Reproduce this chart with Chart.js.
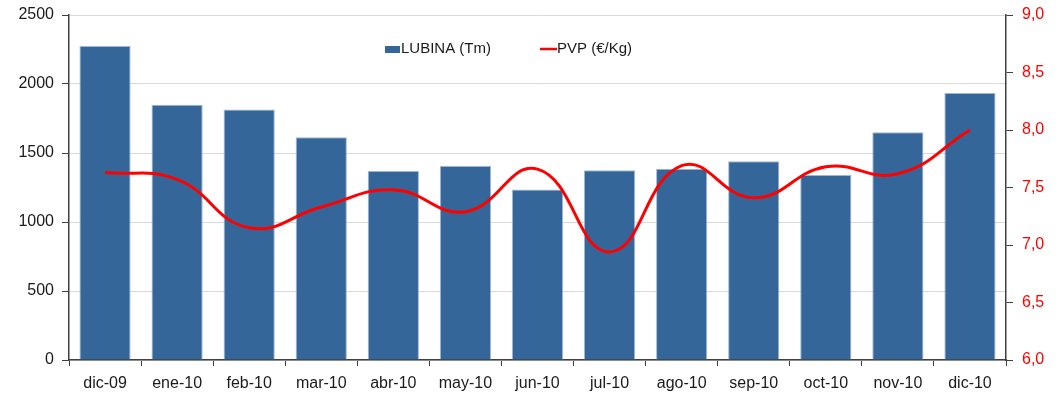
<!DOCTYPE html>
<html>
<head>
<meta charset="utf-8">
<script src="https://cdn.jsdelivr.net/npm/chart.js@4/dist/chart.umd.min.js"></script>
<style>
  html, body { margin: 0; padding: 0; background: #fff; }
  #wrap { width: 1061px; height: 394px; position: relative; }
</style>
</head>
<body>
<div id="wrap"><canvas id="lubinaChart"></canvas></div>
<script>
// Monthly data
const months = ['dic-09', 'ene-10', 'feb-10', 'mar-10', 'abr-10', 'may-10', 'jun-10',
                'jul-10', 'ago-10', 'sep-10', 'oct-10', 'nov-10', 'dic-10'];
const lubinaTm = [2275, 1850, 1815, 1615, 1370, 1405, 1235, 1375, 1385, 1440, 1340, 1650, 1935];
const pvpEurKg = [7.63, 7.57, 7.15, 7.33, 7.48, 7.29, 7.66, 6.94, 7.69, 7.41, 7.68, 7.62, 8.0];
const leftTicks = [0, 500, 1000, 1500, 2000, 2500];
const rightTicks = [6.0, 6.5, 7.0, 7.5, 8.0, 8.5, 9.0];

const BAR_BLUE = '#346699';
const LINE_RED = '#ff0000';
const AXIS_DARK = '#404040';
const FONT = "'Liberation Sans', Arial, sans-serif";

Chart.defaults.font.family = FONT;
Chart.defaults.font.size = 16;
Chart.defaults.color = '#1a1a1a';

// Legend drawn inside the plot, centred near the top
const innerLegend = {
    id: 'innerLegend',
    afterDatasetsDraw(chart) {
        const ctx = chart.ctx;
        const barSet = chart.data.datasets.find(d => d.type === 'bar');
        const lineSet = chart.data.datasets.find(d => d.type === 'line');
        ctx.save();
        ctx.font = '15px ' + FONT;
        ctx.textBaseline = 'middle';
        ctx.fillStyle = BAR_BLUE;
        ctx.fillRect(385, 46, 15, 7);
        ctx.fillStyle = '#1a1a1a';
        ctx.fillText(barSet.label, 401, 49);
        ctx.strokeStyle = LINE_RED;
        ctx.lineWidth = 2.5;
        ctx.beginPath();
        ctx.moveTo(540, 49);
        ctx.lineTo(557, 49);
        ctx.stroke();
        ctx.fillStyle = '#1a1a1a';
        ctx.fillText(lineSet.label, 557, 49);
        ctx.restore();
    }
};

// keep the value axes flush with the layout padding
const noVerticalPad = (scale) => {
    scale.paddingTop = 0;
    scale.paddingBottom = 0;
};

const ctx = document.getElementById('lubinaChart').getContext('2d');
new Chart(ctx, {
    type: 'bar',
    data: {
        labels: months,
        datasets: [
            {
                type: 'line',
                label: 'PVP (€/Kg)',
                data: pvpEurKg,
                yAxisID: 'y1',
                borderColor: LINE_RED,
                borderWidth: 3,
                pointRadius: 0,
                tension: 0.45,
                fill: false,
                order: 0
            },
            {
                type: 'bar',
                label: 'LUBINA (Tm)',
                data: lubinaTm,
                yAxisID: 'y',
                backgroundColor: BAR_BLUE,
                borderColor: '#9fb6cf',
                borderWidth: 1,
                categoryPercentage: 1.0,
                barPercentage: 0.71,
                order: 1
            }
        ]
    },
    options: {
        responsive: true,
        maintainAspectRatio: false,
        animation: false,
        layout: { padding: { top: 15, left: 0, right: 0, bottom: 0 } },
        plugins: {
            legend: { display: false },
            tooltip: { enabled: false }
        },
        scales: {
            x: {
                grid: {
                    offset: true,
                    drawOnChartArea: false,
                    drawTicks: true,
                    tickLength: 6,
                    tickColor: AXIS_DARK
                },
                border: { color: AXIS_DARK, width: 1.5 },
                ticks: { padding: 8, color: '#1a1a1a', maxRotation: 0 },
                afterFit: (scale) => {
                    scale.height = 34;
                    scale.paddingLeft = 0;
                    scale.paddingRight = 0;
                }
            },
            y: {
                position: 'left',
                min: 0,
                max: 2500,
                afterBuildTicks: (scale) => { scale.ticks = leftTicks.map(v => ({ value: v })); },
                grid: {
                    color: '#d9d9d9',
                    tickColor: AXIS_DARK,
                    tickLength: 7,
                    lineWidth: 1
                },
                border: { color: AXIS_DARK, width: 1.5 },
                ticks: {
                    padding: 8,
                    color: '#1a1a1a',
                    callback: (value) => String(value)
                },
                afterFit: (scale) => {
                    scale.width = 69;
                    noVerticalPad(scale);
                }
            },
            y1: {
                position: 'right',
                min: 6,
                max: 9,
                afterBuildTicks: (scale) => { scale.ticks = rightTicks.map(v => ({ value: v })); },
                grid: {
                    drawOnChartArea: false,
                    tickColor: AXIS_DARK,
                    tickLength: 7
                },
                border: { color: AXIS_DARK, width: 1.5 },
                ticks: {
                    padding: 9,
                    color: LINE_RED,
                    callback: (value) => value.toFixed(1).replace('.', ',')
                },
                afterFit: (scale) => {
                    scale.width = 55;
                    noVerticalPad(scale);
                }
            }
        }
    },
    plugins: [innerLegend]
});
</script>
</body>
</html>
